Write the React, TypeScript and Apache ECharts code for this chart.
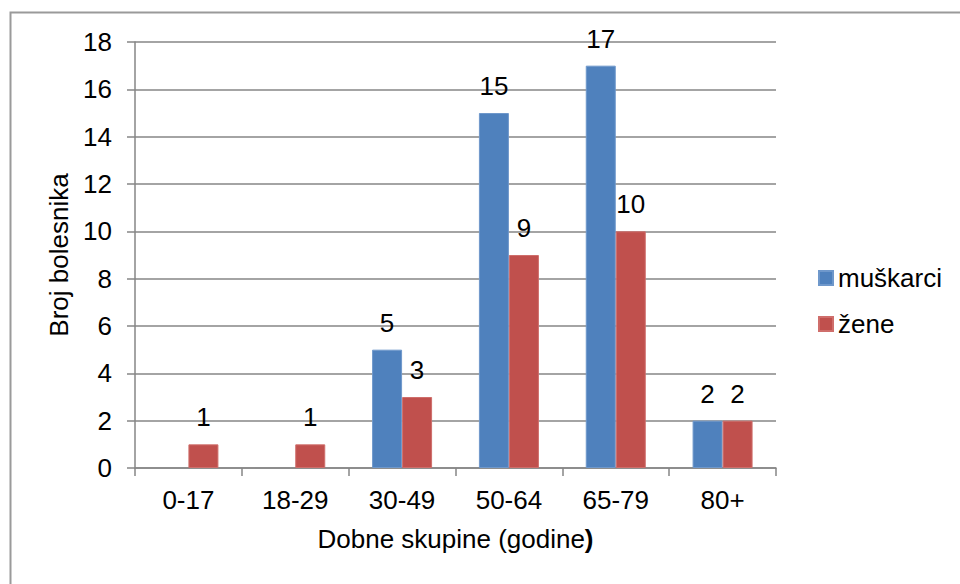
import React, { useEffect, useRef } from "react";
import * as echarts from "echarts";

const categories = ["0-17", "18-29", "30-49", "50-64", "65-79", "80+"];
const muskarci: (number | null)[] = [null, null, 5, 15, 17, 2];
const zene: number[] = [1, 1, 3, 9, 10, 2];
const seriesNames = ["muškarci", "žene"];
const yTicks = { min: 0, max: 18, interval: 2 };

const AXIS_FONT = "'Liberation Sans', Arial, sans-serif";
const LABEL_FONT = "'Liberation Sans Narrow', 'Liberation Sans', sans-serif";
const GRID_COLOR = "#868686";
const FS = 26;

export default function App() {
  const ref = useRef<HTMLDivElement>(null);
  useEffect(() => {
    document.body.style.margin = "0";
    if (!ref.current) return;
    const chart = echarts.init(ref.current, null, { renderer: "svg" });
    const valueLabel = {
      show: true,
      position: "top" as const,
      distance: 14,
      color: "#000",
      fontFamily: LABEL_FONT,
      fontSize: 26,
    };
    chart.setOption({
      animation: false,
      backgroundColor: "#fff",
      graphic: [
        {
          type: "rect",
          shape: { x: 10.5, y: 12.5, width: 1000, height: 700 },
          style: { fill: "none", stroke: "#9a9a9a", lineWidth: 2 },
          silent: true,
        },
      ],
      grid: { left: 135, right: 184, top: 42, bottom: 116, containLabel: false },
      legend: {
        orient: "vertical",
        left: 818,
        top: 265,
        padding: 0,
        itemWidth: 14,
        itemHeight: 14,
        itemGap: 20,
        icon: "rect",
        textStyle: { fontFamily: AXIS_FONT, fontSize: FS, color: "#000" },
        data: seriesNames,
      },
      xAxis: {
        type: "category",
        data: categories,
        name: "{a|Dobne skupine (godine}{b|)}",
        nameLocation: "middle",
        nameGap: 58,
        nameTextStyle: {
          rich: {
            a: { fontFamily: AXIS_FONT, fontSize: FS, color: "#000" },
            b: { fontFamily: AXIS_FONT, fontSize: FS, color: "#000", fontWeight: "bold" },
          },
        },
        axisLine: { show: true, lineStyle: { color: GRID_COLOR, width: 1.5 } },
        axisTick: { show: true, length: 8, lineStyle: { color: GRID_COLOR, width: 1.5 } },
        axisLabel: { fontFamily: AXIS_FONT, fontSize: FS, color: "#000", margin: 19 },
        splitLine: { show: false },
      },
      yAxis: {
        type: "value",
        min: yTicks.min,
        max: yTicks.max,
        interval: yTicks.interval,
        name: "Broj bolesnika",
        nameLocation: "middle",
        nameGap: 59,
        nameTextStyle: { fontFamily: AXIS_FONT, fontSize: FS, color: "#000" },
        axisLine: { show: true, lineStyle: { color: GRID_COLOR, width: 1.5 } },
        axisTick: { show: true, length: 8, lineStyle: { color: GRID_COLOR, width: 1.5 } },
        axisLabel: { fontFamily: AXIS_FONT, fontSize: FS, color: "#000", margin: 23 },
        splitLine: { show: true, lineStyle: { color: GRID_COLOR, width: 1.5 } },
      },
      series: [
        {
          name: seriesNames[0],
          type: "bar",
          data: muskarci,
          barWidth: 30,
          barGap: "0%",
          itemStyle: { color: "#4F81BD", borderColor: "#6f98cb", borderWidth: 1 },
          label: valueLabel,
        },
        {
          name: seriesNames[1],
          type: "bar",
          data: zene,
          barWidth: 30,
          barGap: "0%",
          itemStyle: { color: "#C0504D", borderColor: "#cf6e6b", borderWidth: 1 },
          label: valueLabel,
        },
      ],
    });
    return () => chart.dispose();
  }, []);
  return <div ref={ref} style={{ width: 960, height: 584 }} />;
}
